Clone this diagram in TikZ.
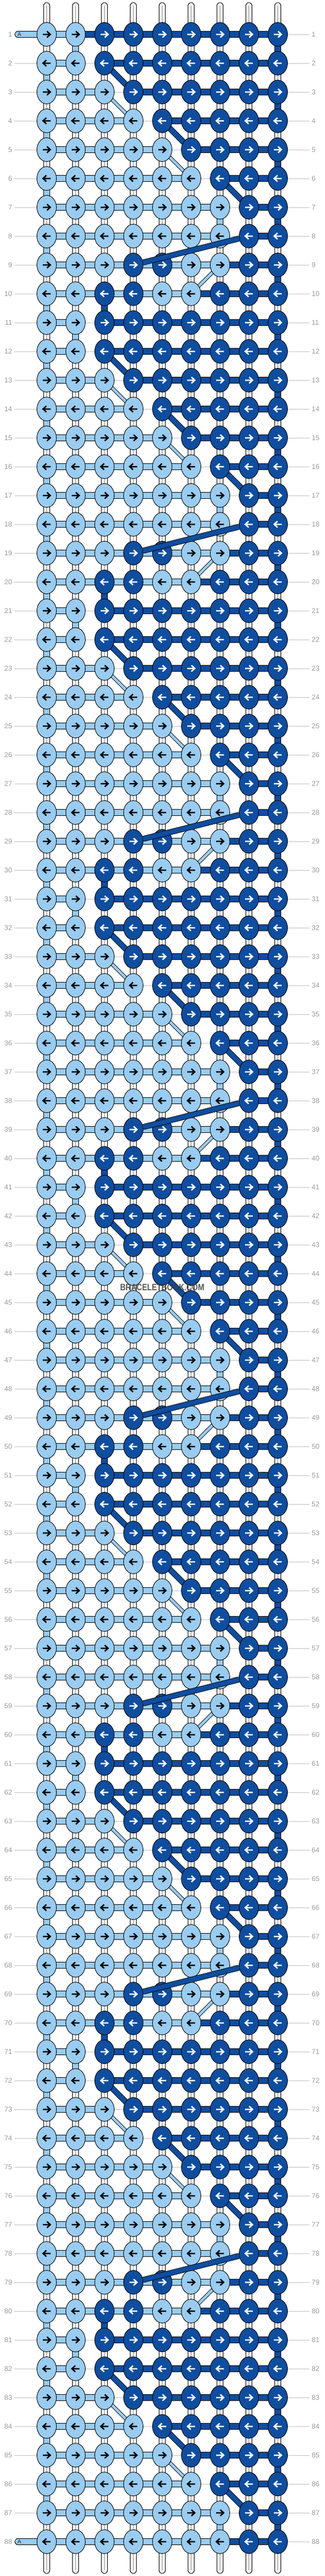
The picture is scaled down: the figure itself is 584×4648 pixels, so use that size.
\documentclass[tikz,border=0pt]{standalone}
\usepackage{fontspec}
\setsansfont{Liberation Sans}
\usepackage{tikz}
\usetikzlibrary{shapes.geometric}

\definecolor{knotlight}{HTML}{99CCF0}
\definecolor{knotdark}{HTML}{0F4D9F}
\definecolor{rowgrey}{HTML}{9B9B9B}
\definecolor{guidegrey}{HTML}{C2C2C2}
\definecolor{warpgrey}{HTML}{BBBBBB}

\tikzset{
  knot/.style={ellipse, draw=black, line width=0.9pt, minimum width=35pt, minimum height=43pt, inner sep=0pt},
  knot0/.style={knot, fill=knotlight},
  knot1/.style={knot, fill=knotdark},
  arrowpen/.style={line width=2.5pt, line cap=butt, line join=miter},
  dir1/.style={path picture={\draw[arrowpen,#1,shift={(path picture bounding box.center)}] (-7pt,0pt) -- (6pt,0pt) (0.5pt,5.5pt) -- (6.5pt,0pt) -- (0.5pt,-5.5pt);}},
  dir0/.style={path picture={\draw[arrowpen,#1,shift={(path picture bounding box.center)}] (7pt,0pt) -- (-6pt,0pt) (-0.5pt,5.5pt) -- (-6.5pt,0pt) -- (-0.5pt,-5.5pt);}},
  band/.style={draw=black, line width=0.9pt, double distance=9.6pt},
  strand0/.style={band, double=knotlight},
  strand1/.style={band, double=knotdark},
  strand3/.style={band, double=white},
  warpmid/.style={draw=warpgrey, line width=1.2pt},
  slant0/.style={draw=black, line width=0.9pt, double=knotlight, double distance=4.8pt},
  slant1/.style={draw=black, line width=0.9pt, double=knotdark, double distance=8.6pt},
  guide/.style={draw=guidegrey, line width=1pt},
  rowno/.style={font=\sffamily\fontsize{12.5}{12.5}\selectfont, text=rowgrey, inner sep=4pt},
  tag/.style={font=\sffamily\fontsize{10}{10}\selectfont, text=black!85, inner sep=0pt},
  stamp/.style={font=\sffamily\bfseries\fontsize{16.5}{16.5}\selectfont, text=black!78, opacity=0.85, xscale=0.83}
}

\def\period{
1/{0,0,1,1,1,1,1,1,1}/{0,2,1,1,1,1,1,1}/{3,0,3,3,3,3,3,3,1},
2/{0,0,1,1,1,1,1,1,1}/{0,2,1,1,1,1,1,1}/{0,3,3,3,3,3,3,3,3},
3/{0,0,0,1,1,1,1,1,1}/{0,0,2,1,1,1,1,1}/{3,3,3,3,3,3,3,3,1},
4/{0,0,0,0,1,1,1,1,1}/{0,0,0,2,1,1,1,1}/{0,3,3,3,3,3,3,3,3},
5/{0,0,0,0,0,1,1,1,1}/{0,0,0,0,2,1,1,1}/{3,3,3,3,3,3,3,3,1},
6/{0,0,0,0,0,0,1,1,1}/{0,0,0,0,0,2,1,1}/{0,3,3,3,3,3,3,3,3},
7/{0,0,0,0,0,0,0,1,1}/{0,0,0,0,0,0,2,1}/{3,3,3,3,3,3,0,3,1},
8/{0,0,0,0,0,0,0,1,1}/{0,0,0,0,0,0,2,1}/{0,3,3,3,3,3,3,3,3},
9/{0,0,0,1,1,0,0,1,1}/{0,0,0,0,0,0,1,1}/{3,3,3,3,3,3,3,3,1},
10/{0,0,1,1,0,0,1,1,1}/{0,0,0,0,0,1,1,1}/{0,3,1,3,3,3,3,3,3}}

\def\slants{2/3/4/1, 3/3/4/0, 4/5/6/1, 5/5/6/0, 6/7/8/1, 9/7/6/0}

\begin{document}
\begin{tikzpicture}[x=1pt,y=-1pt]
\useasboundingbox (0,0) rectangle (584,4648);
\fill[white] (0,0) rectangle (584,4648);

\foreach \r in {1,...,88}{
  \pgfmathsetmacro\y{62+52*(\r-1)}
  \foreach \c in {1,...,9}{
    \pgfmathsetmacro\x{84+52*(\c-1)}
    \coordinate (p-\r-\c) at (\x,\y);
  }
  \node[rowno, anchor=east] (nl-\r) at (26,\y) {\r};
  \node[rowno, anchor=west] (nr-\r) at (557,\y) {\r};
  \draw[guide] (nl-\r) -- (nr-\r);
}

\foreach \c in {1,...,9}{
  \pgfmathsetmacro\x{84+52*(\c-1)}
  \coordinate (top-\c) at (\x,10);
  \coordinate (end-\c) at (\x,4638);
  \draw[strand3, line cap=round] (top-\c) -- (p-1-\c);
  \draw[warpmid] (top-\c) -- (p-1-\c);
  \draw[strand3, line cap=round] (p-88-\c) -- (end-\c);
  \draw[warpmid] (p-88-\c) -- (end-\c);
}

\foreach \p in {0,...,8}{
  \foreach \k/\kc/\hc/\vc in \period{
    \pgfmathtruncatemacro\r{10*\p+\k}
    \pgfmathtruncatemacro\rn{\r+1}
    \ifnum\r<88
      \foreach \v [count=\c] in \vc{
        \draw[strand\v] (p-\r-\c) -- (p-\rn-\c);
        \ifnum\v=3 \draw[warpmid] (p-\r-\c) -- (p-\rn-\c); \fi
      }
    \fi
    \ifnum\r<89
      \foreach \h [count=\c] in \hc{
        \pgfmathtruncatemacro\cn{\c+1}
        \ifnum\h<2 \draw[strand\h] (p-\r-\c) -- (p-\r-\cn); \fi
      }
    \fi
  }
  \foreach \k/\a/\b/\s in \slants{
    \pgfmathtruncatemacro\r{10*\p+\k}
    \pgfmathtruncatemacro\rn{\r+1}
    \ifnum\r<88 \draw[slant\s] (p-\r-\a) -- (p-\rn-\b); \fi
  }
}
\draw[strand1] (p-1-2) -- (p-1-3);
\draw[strand1] (p-88-7) -- (p-88-8);

\coordinate (in-1) at (32,62);
\coordinate (in-88) at (32,4586);
\foreach \r in {1,88}
  \draw[strand0, line cap=round] (in-\r) -- (p-\r-1);

\foreach \p in {0,...,8}{
  \foreach \k/\kc/\hc/\vc in \period{
    \pgfmathtruncatemacro\r{10*\p+\k}
    \pgfmathtruncatemacro\d{mod(\r,2)}
    \ifnum\r<89
      \foreach \v [count=\c] in \kc{
        \ifnum\v=0 \def\acol{black}\else\def\acol{white}\fi
        \node[knot\v, dir\d=\acol] (k-\r-\c) at (p-\r-\c) {};
      }
    \fi
  }
}

\foreach \p in {0,...,7}{
  \pgfmathtruncatemacro\r{10*\p+8}
  \pgfmathtruncatemacro\rn{\r+1}
  \draw[slant1] (k-\r-8) -- (k-\rn-4);
}

\node[tag] (a-1) at (35,62) {A};
\node[tag] (a-88) at (35,4586) {A};
\node[stamp] (mark) at (292,2323) {BRACELETBOOK.COM};

\end{tikzpicture}
\end{document}
